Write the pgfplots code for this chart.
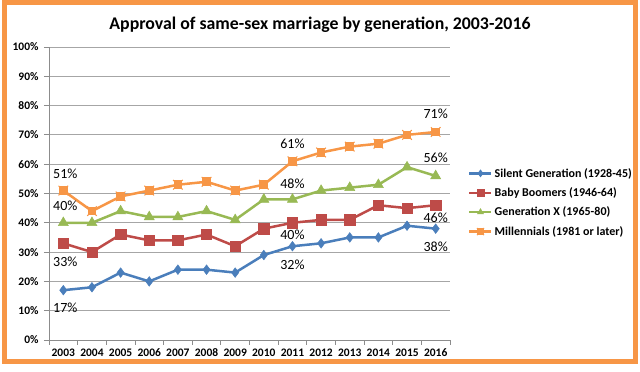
\documentclass[border=0pt]{standalone}
\usepackage{fontspec}
\setmainfont{Carlito}
\usepackage{pgfplots}
\pgfplotsset{compat=1.18}
\definecolor{cBlue}{HTML}{4A7EBB}
\definecolor{cRed}{HTML}{BE4B48}
\definecolor{cGreen}{HTML}{98B954}
\definecolor{cOrange}{HTML}{F79646}
\definecolor{cFrame}{HTML}{F79646}
\definecolor{cGrid}{HTML}{A6A6A6}
\definecolor{cAxis}{HTML}{8C8C8C}
\pgfdeclareplotmark{sqx}{%
  \pgfpathrectangle{\pgfqpoint{-0.8\pgfplotmarksize}{-0.8\pgfplotmarksize}}{\pgfqpoint{1.6\pgfplotmarksize}{1.6\pgfplotmarksize}}%
  \pgfusepathqfillstroke
  \pgfpathmoveto{\pgfqpoint{-\pgfplotmarksize}{-\pgfplotmarksize}}%
  \pgfpathlineto{\pgfqpoint{\pgfplotmarksize}{\pgfplotmarksize}}%
  \pgfpathmoveto{\pgfqpoint{-\pgfplotmarksize}{\pgfplotmarksize}}%
  \pgfpathlineto{\pgfqpoint{\pgfplotmarksize}{-\pgfplotmarksize}}%
  \pgfusepathqstroke
}
\begin{document}
\begin{tikzpicture}[x=1pt,y=1pt]
\useasboundingbox (0,0) rectangle (640,372);
\draw[cFrame, line width=5pt] (4.5,10) rectangle (635.5,369.5);
\node[font=\fontsize{17.8}{20}\selectfont\bfseries] at (320,347) {Approval of same-sex marriage by generation, 2003-2016};
\begin{axis}[
  at={(49pt,32pt)}, anchor=south west, scale only axis,
  width=401pt, height=293pt,
  xmin=-0.5, xmax=13.5, ymin=0, ymax=100,
  clip=false,
  axis x line*=bottom, axis y line*=left,
  axis line style={draw=cAxis, line width=0.8pt},
  xtick={0,...,13},
  xticklabels={2003,2004,2005,2006,2007,2008,2009,2010,2011,2012,2013,2014,2015,2016},
  major x tick style={draw=none},
  minor xtick={-0.5,0.5,...,13.5},
  ytick={0,10,...,100},
  yticklabels={0\%,10\%,20\%,30\%,40\%,50\%,60\%,70\%,80\%,90\%,100\%},
  tick align=outside, major tick length=5pt, minor tick length=5pt,
  tick style={draw=cAxis, line width=0.8pt},
  ymajorgrids, grid style={draw=cGrid, line width=0.8pt},
  ticklabel style={font=\fontsize{11.5}{13}\selectfont\bfseries},
  yticklabel style={xshift=-2pt},
  legend style={at={(1.045,0.594)}, anchor=north west, draw=none, fill=none,
    font=\fontsize{12}{14}\selectfont\bfseries, row sep=5pt,
    inner sep=0pt, nodes={inner xsep=2pt}},
  legend cell align=left,
  legend image code/.code={\draw[#1, mark size=3.5pt, mark repeat=2, mark phase=2] plot coordinates {(0pt,0pt) (11pt,0pt) (22pt,0pt)};},
]
\addplot[cBlue, line width=2.5pt, mark=diamond*, mark size=4.8pt, mark options={solid, line width=0.5pt}] coordinates {
(0,17)(1,18)(2,23)(3,20)(4,24)(5,24)(6,23)(7,29)(8,32)(9,33)(10,35)(11,35)(12,39)(13,38)};
\addlegendentry{Silent Generation (1928-45)}
\addplot[cRed, line width=2.5pt, mark=square*, mark size=5.2pt, mark options={solid, line width=0.5pt}] coordinates {
(0,33)(1,30)(2,36)(3,34)(4,34)(5,36)(6,32)(7,38)(8,40)(9,41)(10,41)(11,46)(12,45)(13,46)};
\addlegendentry{Baby Boomers (1946-64)}
\addplot[cGreen, line width=2.5pt, mark=triangle*, mark size=5.8pt, mark options={solid, line width=0.5pt}] coordinates {
(0,40)(1,40)(2,44)(3,42)(4,42)(5,44)(6,41)(7,48)(8,48)(9,51)(10,52)(11,53)(12,59)(13,56)};
\addlegendentry{Generation X (1965-80)}
\addplot[cOrange, line width=2.5pt, mark=sqx, mark size=4.8pt, mark options={solid, line width=1pt}] coordinates {
(0,51)(1,44)(2,49)(3,51)(4,53)(5,54)(6,51)(7,53)(8,61)(9,64)(10,66)(11,67)(12,70)(13,71)};
\addlegendentry{Millennials (1981 or later)}
\begin{scope}[every node/.style={font=\fontsize{14}{16}\selectfont}]
\node[yshift=17pt, xshift=2pt] at (axis cs:0,51) {51\%};
\node[yshift=17pt, xshift=2pt] at (axis cs:0,40) {40\%};
\node[yshift=-18pt, xshift=2pt] at (axis cs:0,33) {33\%};
\node[yshift=-18pt, xshift=2pt] at (axis cs:0,17) {17\%};
\node[yshift=17pt] at (axis cs:8,61) {61\%};
\node[yshift=16pt] at (axis cs:8,48) {48\%};
\node[yshift=-12pt] at (axis cs:8,40) {40\%};
\node[yshift=-19pt] at (axis cs:8,32) {32\%};
\node[yshift=18pt] at (axis cs:13,71) {71\%};
\node[yshift=18pt] at (axis cs:13,56) {56\%};
\node[yshift=-13pt] at (axis cs:13,46) {46\%};
\node[yshift=-18pt] at (axis cs:13,38) {38\%};
\end{scope}
\end{axis}
\end{tikzpicture}
\end{document}
